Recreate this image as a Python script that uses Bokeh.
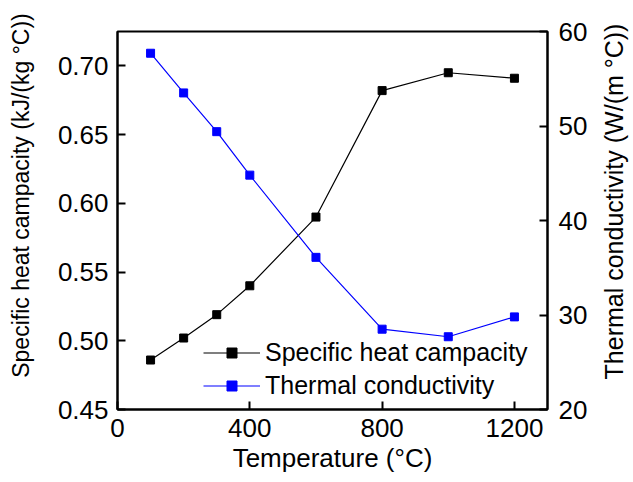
import math
from bokeh.plotting import figure
from bokeh.layouts import row
from bokeh.models import Range1d, LinearAxis, Legend, LegendItem, FixedTicker
from bokeh.core.properties import value
from bokeh.embed import file_html
from bokeh.resources import INLINE

temps = [100, 200, 300, 400, 600, 800, 1000, 1200]
heat_capacity = [0.486, 0.502, 0.519, 0.540, 0.590, 0.682, 0.695, 0.691]
conductivity = [57.7, 53.5, 49.4, 44.8, 36.1, 28.5, 27.7, 29.8]

x_ticks = [0, 400, 800, 1200]
y_left_ticks = [0.45, 0.50, 0.55, 0.60, 0.65, 0.70]
y_left_labels = ["0.45", "0.50", "0.55", "0.60", "0.65", "0.70"]
y_right_ticks = [20, 30, 40, 50, 60]

x_title = "Temperature (°C)"
y_left_title = "Specific heat campacity (kJ/(kg °C))"
y_right_title = "Thermal conductivity (W/(m °C))"

FONT = "Liberation Sans"
H = 481
LEFT_W = 40
RIGHT_W = 36

p = figure(frame_width=430, frame_height=378, output_backend="svg", toolbar_location=None,
           x_range=Range1d(0, 1300), y_range=Range1d(0.45, 0.725),
           min_border_left=117 - LEFT_W, min_border_right=50, min_border_top=31,
           min_border_bottom=72)
p.frame_align = False
p.extra_y_ranges = {"k": Range1d(20, 60)}
p.xgrid.visible = False
p.ygrid.visible = False
p.outline_line_color = "black"
p.outline_line_width = 2
p.background_fill_color = "white"
p.border_fill_color = "white"

ax_r = LinearAxis(y_range_name="k")
p.add_layout(ax_r, "right")

p.xaxis.ticker = FixedTicker(ticks=x_ticks)
p.yaxis[0].ticker = FixedTicker(ticks=y_left_ticks)
p.yaxis[0].major_label_overrides = {t: l for t, l in zip(y_left_ticks, y_left_labels)}
ax_r.ticker = FixedTicker(ticks=y_right_ticks)

for ax in [p.xaxis[0], p.yaxis[0], ax_r]:
    ax.axis_line_width = 2
    ax.axis_line_color = "black"
    ax.major_tick_in = 8
    ax.major_tick_out = 0
    ax.major_tick_line_width = 2
    ax.minor_tick_line_color = None
    ax.major_label_text_font = FONT
    ax.major_label_text_font_size = "26px"
    ax.major_label_text_color = "black"

p.xaxis.axis_label = x_title
p.xaxis.axis_label_text_font = FONT
p.xaxis.axis_label_text_font_size = "26px"
p.xaxis.axis_label_text_font_style = "normal"
p.xaxis.axis_label_text_color = "black"
p.xaxis.major_label_standoff = 9
p.xaxis.axis_label_standoff = 3
p.yaxis[0].major_label_standoff = 9
ax_r.major_label_standoff = 11

l1 = p.line(temps, heat_capacity, line_color="black", line_width=1.2)
s1 = p.scatter(temps, heat_capacity, marker="square", size=8, color="black")
l2 = p.line(temps, conductivity, line_color="blue", line_width=1.2, y_range_name="k")
s2 = p.scatter(temps, conductivity, marker="square", size=8, color="blue", y_range_name="k")

legend = Legend(items=[
    LegendItem(label="Specific heat campacity", renderers=[l1, s1]),
    LegendItem(label="Thermal conductivity", renderers=[l2, s2]),
], location=(86, 9))
legend.border_line_color = None
legend.background_fill_alpha = 0
legend.padding = 0
legend.margin = 0
legend.spacing = 4
legend.glyph_width = 57
legend.glyph_height = 25
legend.label_height = 25
legend.label_standoff = 5
legend.label_text_font = FONT
legend.label_text_font_size = "25px"
legend.label_text_color = "black"
p.add_layout(legend)


def title_panel(w, text, x, y_center, size):
    f = figure(width=w, height=H, output_backend="svg", toolbar_location=None,
               x_range=Range1d(0, w), y_range=Range1d(0, H), min_border=0,
               x_axis_location=None, y_axis_location=None)
    f.frame_align = False
    f.xgrid.visible = False
    f.ygrid.visible = False
    f.outline_line_color = None
    f.background_fill_color = "white"
    f.border_fill_color = "white"
    f.text(x=[x], y=[y_center], text=[text], angle=math.pi / 2, text_font=value(FONT),
           text_font_size=value(size), text_color="black", text_align="center",
           text_baseline="alphabetic")
    return f


# vertical centres of the titles: image y = 195 (left) and 201 (right)
left = title_panel(LEFT_W, y_left_title, 20, H - 195, "23px")
right = title_panel(RIGHT_W, y_right_title, 16, H - 201, "25px")

layout = row(left, p, right)
open("out.html", "w").write(file_html(layout, INLINE))
